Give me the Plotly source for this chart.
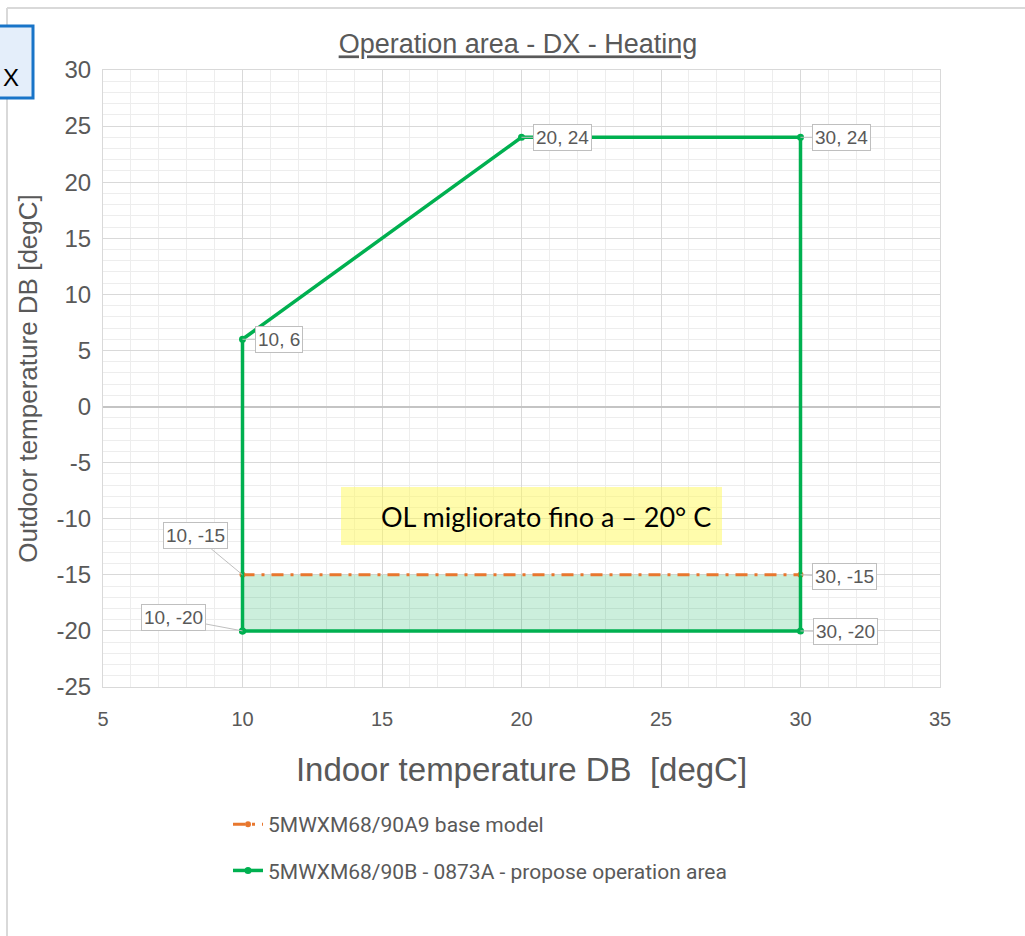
import plotly.graph_objects as go

# Operating envelope values (degC)
base_x = [10, 30]
base_y = [-15, -15]
prop_x = [10, 10, 20, 30, 30, 10]
prop_y = [-20, 6, 24, 24, -20, -20]

y_ticks = [30, 25, 20, 15, 10, 5, 0, -5, -10, -15, -20, -25]
y_ticktext = ['30', '25', '20', '15', '10', '5', '0', '-5', '-10', '-15', '-20', '-25']

base_name = '5MWXM68/90A9 base model'
prop_name = '5MWXM68/90B - 0873A - propose operation area'
note_text = 'OL migliorato fino a \u2013 20\u00b0 C'

W, H = 1025, 936
L, R, T, B = 103, 85, 70, 249
PW, PH = W - L - R, H - T - B


def px_x(p):
    return (p - L) / PW


def px_y(p):
    return (H - B - p) / PH


GREY = '#595959'
GREEN = '#00B050'
ORANGE = '#E8772E'
NARROW = 'Liberation Sans Narrow, Arial Narrow, Liberation Sans, Arial'

fig = go.Figure()

# shaded gain between base and proposed lower limit
fill_x = [base_x[0], base_x[1], base_x[1], base_x[0]]
fill_y = [min(prop_y), min(prop_y), base_y[1], base_y[0]]
fig.add_trace(go.Scatter(
    x=fill_x, y=fill_y, mode='none', fill='toself',
    fillcolor='rgba(0,176,80,0.2)', showlegend=False, hoverinfo='skip'
))

fig.add_trace(go.Scatter(
    x=base_x, y=base_y, name=base_name, mode='lines+markers',
    line=dict(color=ORANGE, width=3, dash='12px,7px,3px,7px'),
    marker=dict(color=ORANGE, size=6),
    legendgroup='a'
))

fig.add_trace(go.Scatter(
    x=prop_x, y=prop_y, name=prop_name, mode='lines+markers',
    line=dict(color=GREEN, width=3.5),
    marker=dict(color=GREEN, size=7),
    legendgroup='b'
))

# data labels (callouts)
offsets = {
    (10, 6): (36, 0), (20, 24): (41, 0), (30, 24): (41, 0),
    (30, -20): (45, 1), (10, -20): (-69, -13),
    (10, -15): (-47, -39), (30, -15): (44, 2),
}
points = list(dict.fromkeys(list(zip(prop_x, prop_y)) + list(zip(base_x, base_y))))
for (xv, yv) in points:
    ax, ay = offsets[(xv, yv)]
    fig.add_annotation(
        x=xv, y=yv, text=f'{xv}, {yv}', showarrow=True, arrowhead=0,
        arrowwidth=1, arrowcolor='#BFBFBF', ax=ax, ay=ay,
        bgcolor='white', bordercolor='#BFBFBF', borderwidth=1, borderpad=2,
        font=dict(family=NARROW, size=19, color=GREY)
    )

# yellow note
fig.add_shape(type='rect', xref='paper', yref='paper',
              x0=px_x(341), x1=px_x(722), y0=px_y(545), y1=px_y(487),
              fillcolor='rgba(255,250,90,0.5)', line=dict(width=0), layer='above')
fig.add_annotation(xref='paper', yref='paper', x=px_x(546), y=px_y(516),
                   xanchor='center', yanchor='middle',
                   text=note_text, showarrow=False,
                   font=dict(family='Lato, Open Sans', size=27, color='black'))

# outer frame + cut-off "X" box
fig.add_shape(type='line', xref='paper', yref='paper',
              x0=px_x(7), x1=px_x(1030), y0=px_y(8), y1=px_y(8),
              line=dict(color='#D9D9D9', width=2))
fig.add_shape(type='line', xref='paper', yref='paper',
              x0=px_x(7), x1=px_x(7), y0=px_y(8), y1=px_y(940),
              line=dict(color='#D9D9D9', width=2))
fig.add_shape(type='rect', xref='paper', yref='paper',
              x0=px_x(-40), x1=px_x(33), y0=px_y(98), y1=px_y(26),
              fillcolor='#E4EEFA', line=dict(color='#1874C8', width=3))
fig.add_annotation(xref='paper', yref='paper', x=px_x(1), y=px_y(62),
                   xanchor='left', text='X', showarrow=False,
                   font=dict(family='Liberation Sans', size=24, color='black'))

fig.update_layout(
    width=W, height=H,
    margin=dict(l=L, r=R, t=T, b=B),
    paper_bgcolor='white', plot_bgcolor='white',
    title=dict(text='<u>Operation area - DX - Heating</u>', xref='container',
               x=518 / W, xanchor='center',
               y=1 - 44 / H, yanchor='middle',
               font=dict(family=NARROW, size=27, color=GREY)),
    legend=dict(x=px_x(228), y=px_y(804), xanchor='left', yanchor='top',
                orientation='v', traceorder='grouped', tracegroupgap=16,
                itemwidth=30, bgcolor='rgba(0,0,0,0)',
                font=dict(family='Roboto, Liberation Sans', size=21, color=GREY)),
    showlegend=True,
)

fig.update_xaxes(
    range=[5, 35], dtick=5, tick0=5, showgrid=True, gridcolor='#D9D9D9', gridwidth=1,
    minor=dict(dtick=1, showgrid=True, gridcolor='#EDEDED'),
    showline=True, linecolor='#D9D9D9', linewidth=1, mirror=True,
    zeroline=False, ticks='', ticklabelstandoff=14,
    tickfont=dict(family=NARROW, size=20, color=GREY),
    title=dict(text='Indoor temperature DB  [degC]', standoff=28,
               font=dict(family=NARROW, size=33, color=GREY)),
)
fig.update_yaxes(
    range=[-25, 30], tickvals=y_ticks, ticktext=y_ticktext, showgrid=True,
    gridcolor='#D9D9D9', gridwidth=1,
    minor=dict(dtick=1, tick0=0, showgrid=True, gridcolor='#EDEDED'),
    showline=True, linecolor='#D9D9D9', linewidth=1, mirror=True,
    zeroline=True, zerolinecolor='#C4C4C4', zerolinewidth=1.5,
    ticks='', ticklabelstandoff=6,
    tickfont=dict(family='Liberation Sans, Arial', size=24, color=GREY),
    title=dict(text='Outdoor temperature DB [degC]', standoff=11,
               font=dict(family='Liberation Sans, Arial', size=26, color=GREY)),
)

fig.write_html('out.html', config={'displayModeBar': False},
               post_script="document.body.style.margin='0px';")
